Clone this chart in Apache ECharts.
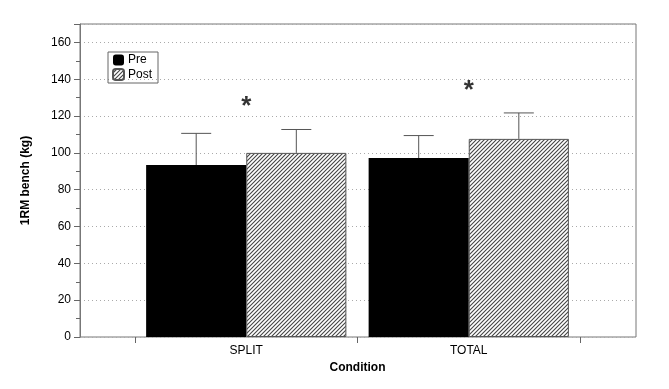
<!DOCTYPE html>
<html><head><meta charset="utf-8">
<script src="https://cdn.jsdelivr.net/npm/echarts@6/dist/echarts.min.js"></script>
<style>html,body{margin:0;padding:0;background:#fff}#c{width:669px;height:389px}</style>
</head><body><div id="c"></div>
<script>
const categories = ['SPLIT', 'TOTAL'];
const preMean = [93.4, 97.2];
const preUpper = [110.6, 109.4];
const postMean = [100.0, 107.6];
const postUpper = [112.7, 121.7];
const starValues = [125.0, 133.8];
const yTicks = [0, 20, 40, 60, 80, 100, 120, 140, 160];

function hatch() {
  const c = document.createElement('canvas');
  c.width = 4; c.height = 4;
  const g = c.getContext('2d');
  g.fillStyle = '#fff'; g.fillRect(0, 0, 4, 4);
  g.strokeStyle = '#444'; g.lineWidth = 1.1;
  g.beginPath();
  g.moveTo(-1, 5); g.lineTo(5, -1);
  g.moveTo(-1, 1); g.lineTo(1, -1);
  g.moveTo(3, 5); g.lineTo(5, 3);
  g.stroke();
  return c;
}
const hatchPattern = { image: hatch(), repeat: 'repeat' };
const FONT = 'Liberation Sans, Arial, sans-serif';

const chart = echarts.init(document.getElementById('c'), null, { renderer: 'canvas' });

function errRender(values, side) {
  return function (params, api) {
    const i = api.value(0);
    const band = api.size([1, 0])[0];
    const off = band * 0.9 / 4 * side;
    const base = api.coord([i, api.value(1)]);
    const top = api.coord([i, api.value(2)]);
    const x = base[0] + off;
    const st = { stroke: '#555', lineWidth: 1, fill: null };
    return { type: 'group', children: [
      { type: 'line', shape: { x1: x, y1: base[1], x2: x, y2: top[1] }, style: st },
      { type: 'line', shape: { x1: x - 15, y1: top[1], x2: x + 15, y2: top[1] }, style: st }
    ]};
  };
}

chart.setOption({
  animation: false,
  grid: [
    { left: 80, right: 33, top: 24, bottom: 52, show: true, borderColor: '#777', borderWidth: 1, backgroundColor: 'transparent' },
    { left: 135, right: 89, top: 24, bottom: 52 }
  ],
  legend: {
    left: 108, top: 52, orient: 'vertical', itemWidth: 11, itemHeight: 11, itemGap: 2,
    borderColor: '#666', borderWidth: 1, borderRadius: 0, padding: [2, 6, 2, 4],
    icon: 'roundRect',
    textStyle: { fontFamily: FONT, fontSize: 12, color: '#000', padding: [0, 0, 0, -1] },
    data: ['Pre', 'Post']
  },
  xAxis: [
    { type: 'value', gridIndex: 0, min: 0, max: 1, show: false },
    { type: 'category', gridIndex: 1, data: categories,
      axisLine: { show: false },
      axisTick: { show: true, length: 6, lineStyle: { color: '#666' } },
      axisLabel: { fontFamily: FONT, fontSize: 12, color: '#000', margin: 8 },
      name: 'Condition', nameLocation: 'middle', nameGap: 24,
      nameTextStyle: { fontFamily: FONT, fontSize: 12, fontWeight: 'bold', color: '#000' }
    }
  ],
  yAxis: [
    { type: 'value', gridIndex: 0, min: 0, max: 170, interval: 20,
      axisLine: { show: true, lineStyle: { color: '#777' } },
      axisTick: { show: true, length: 6, lineStyle: { color: '#666' } },
      minorTick: { show: true, splitNumber: 2, length: 4, lineStyle: { color: '#666' } },
      axisLabel: { fontFamily: FONT, fontSize: 12, color: '#000', margin: 9,
        formatter: v => yTicks.indexOf(v) >= 0 ? String(v) : '' },
      splitLine: { show: true, lineStyle: { color: '#aaa', type: [1, 3], width: 1 } },
      name: '1RM bench (kg)', nameLocation: 'middle', nameGap: 48,
      nameTextStyle: { fontFamily: FONT, fontSize: 12, fontWeight: 'bold', color: '#000' }
    },
    { type: 'value', gridIndex: 1, min: 0, max: 170, show: false, splitLine: { show: false } }
  ],
  series: [
    { name: 'Pre', type: 'bar', xAxisIndex: 1, yAxisIndex: 1, data: preMean,
      barGap: '0%', barCategoryGap: '10%',
      itemStyle: { color: '#000', borderColor: '#000', borderWidth: 0 } },
    { name: 'Post', type: 'bar', xAxisIndex: 1, yAxisIndex: 1, data: postMean,
      itemStyle: { color: hatchPattern, borderColor: '#555', borderWidth: 1 } },
    { type: 'custom', xAxisIndex: 1, yAxisIndex: 1, z: 5,
      data: categories.map((c, i) => [i, preMean[i], preUpper[i]]),
      renderItem: errRender(preUpper, -1) },
    { type: 'custom', xAxisIndex: 1, yAxisIndex: 1, z: 5,
      data: categories.map((c, i) => [i, postMean[i], postUpper[i]]),
      renderItem: errRender(postUpper, 1) },
    { type: 'scatter', xAxisIndex: 1, yAxisIndex: 1, symbolSize: 0, z: 6,
      data: categories.map((c, i) => [i, starValues[i]]),
      label: { show: true, position: 'inside', formatter: '*', fontFamily: FONT, fontSize: 26, fontWeight: 'bold', color: '#000' } }
  ]
});
</script></body></html>
